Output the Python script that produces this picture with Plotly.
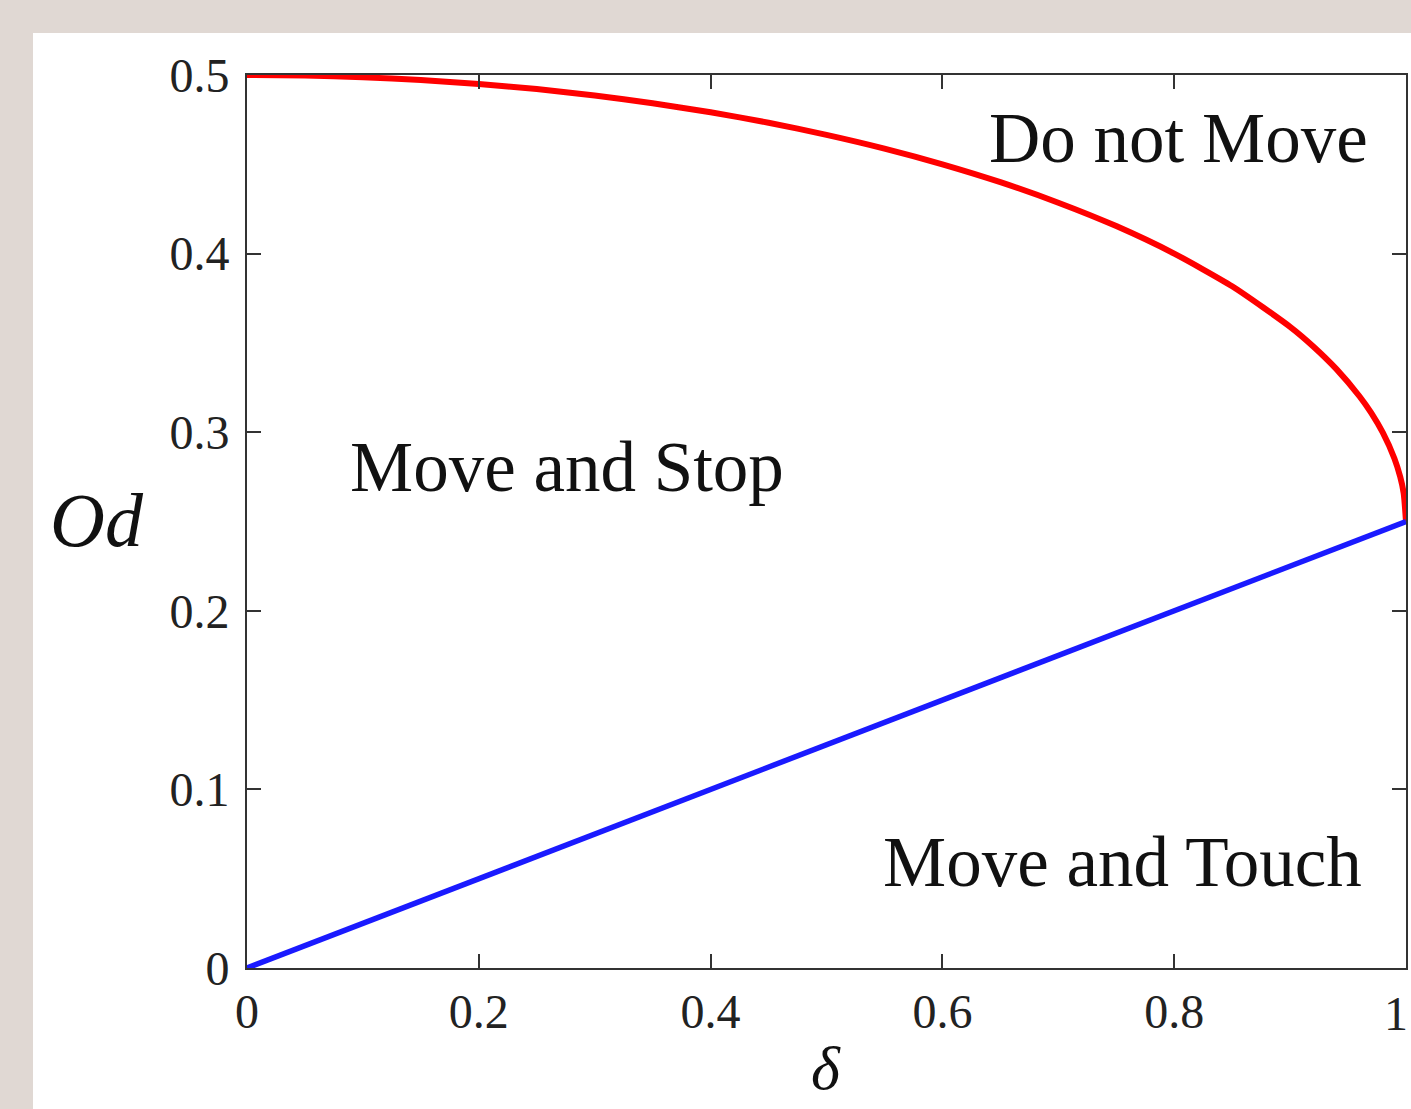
import plotly.graph_objects as go

# Red boundary curve
delta_red = [0, 0.05, 0.1, 0.15, 0.2, 0.25, 0.3, 0.35, 0.4, 0.45, 0.5, 0.55, 0.6,
             0.65, 0.7, 0.75, 0.8, 0.85, 0.9, 0.92, 0.94, 0.96, 0.97, 0.98, 0.99,
             0.995, 0.998, 1.0]
od_red = [0.5, 0.4997, 0.4987, 0.4972, 0.4949, 0.4921, 0.4885, 0.4842, 0.4791, 0.4733,
          0.4665, 0.4588, 0.45, 0.44, 0.4285, 0.4154, 0.40, 0.3817, 0.359, 0.348, 0.3353,
          0.32, 0.3108, 0.2997, 0.2853, 0.275, 0.2658, 0.25]

# Blue boundary line
delta_blue = [0, 1]
od_blue = [0, 0.25]

x_ticks = [0, 0.2, 0.4, 0.6, 0.8, 1]
x_tick_labels = ["0", "0.2", "0.4", "0.6", "0.8", "1"]
y_ticks = [0, 0.1, 0.2, 0.3, 0.4, 0.5]
y_tick_labels = ["0", "0.1", "0.2", "0.3", "0.4", "0.5"]

region_labels = ["Do not Move", "Move and Stop", "Move and Touch"]

FONT = "Liberation Serif"
W, H = 1411, 1109
L, R, T, B = 247, 5, 75, 141
pw, ph = W - L - R, H - T - B

fig = go.Figure()
fig.add_trace(go.Scatter(x=delta_red, y=od_red, mode="lines",
                         line=dict(color="#ff0000", width=6, shape="spline", smoothing=0.6),
                         cliponaxis=False, showlegend=False))
fig.add_trace(go.Scatter(x=delta_blue, y=od_blue, mode="lines",
                         line=dict(color="#1a1aff", width=5.5), cliponaxis=False,
                         showlegend=False))

def px_x(p):
    return (p - L) / pw

def px_y(p):
    return (H - B - p) / ph

# white panel
fig.add_shape(type="rect", xref="paper", yref="paper", layer="below",
              x0=px_x(33), x1=px_x(1420), y0=px_y(1120), y1=px_y(33),
              fillcolor="white", line=dict(width=0))

fig.add_annotation(x=0.969, y=0.4647, xref="x", yref="y", text=region_labels[0],
                   showarrow=False, xanchor="right", yanchor="middle",
                   font=dict(family=FONT, size=71, color="#111"))
fig.add_annotation(x=0.087, y=0.2805, xref="x", yref="y", text=region_labels[1],
                   showarrow=False, xanchor="left", yanchor="middle",
                   font=dict(family=FONT, size=71, color="#111"))
fig.add_annotation(x=0.964, y=0.0594, xref="x", yref="y", text=region_labels[2],
                   showarrow=False, xanchor="right", yanchor="middle",
                   font=dict(family=FONT, size=71, color="#111"))

fig.add_annotation(x=px_x(97), y=px_y(520), xref="paper", yref="paper", text="<i>Od</i>",
                   showarrow=False, xanchor="center", yanchor="middle",
                   font=dict(family=FONT, size=76, color="#111"))
fig.add_annotation(x=px_x(826), y=px_y(1068), xref="paper", yref="paper", text="<i>δ</i>",
                   showarrow=False, xanchor="center", yanchor="middle",
                   font=dict(family=FONT, size=62, color="#111"))

# last x tick label kept inside the page edge
fig.add_annotation(x=px_x(1410), y=px_y(1013), xref="paper", yref="paper",
                   text=x_tick_labels[-1], showarrow=False,
                   xanchor="right", yanchor="middle",
                   font=dict(family=FONT, size=48, color="#222"))

axis_common = dict(showline=True, linecolor="#333", linewidth=2, mirror="ticks",
                   ticks="inside", ticklen=14, tickwidth=1.5, tickcolor="#333",
                   showgrid=False, zeroline=False, ticklabeloverflow="allow",
                   automargin=False,
                   tickfont=dict(family=FONT, size=48, color="#222"))

fig.update_xaxes(range=[0, 1], tickvals=x_ticks,
                 ticktext=x_tick_labels[:-1] + [""], **axis_common)
fig.update_yaxes(range=[0, 0.5], tickvals=y_ticks, ticktext=y_tick_labels,
                 ticklabelstandoff=6, **axis_common)

fig.update_layout(width=W, height=H, margin=dict(l=L, r=R, t=T, b=B, pad=0, autoexpand=False),
                  paper_bgcolor="#e0d8d3", plot_bgcolor="white")

fig.write_html("out.html")
